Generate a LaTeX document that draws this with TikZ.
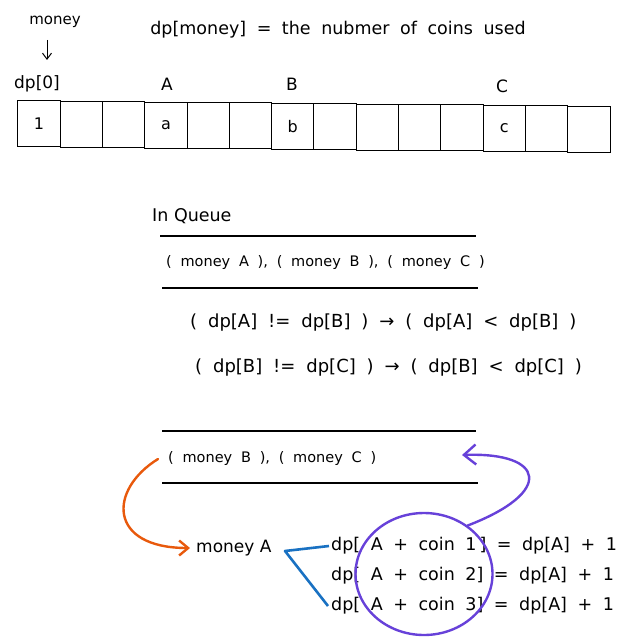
\documentclass[tikz,border=0pt]{standalone}
\usepackage{fontspec}
\setmainfont{DejaVu Sans}
\newfontfamily\widefont{DejaVu Sans}[WordSpace=1.9]
\usetikzlibrary{arrows.meta,shapes.geometric}
\definecolor{exorange}{HTML}{E8590C}
\definecolor{exblue}{HTML}{1971C2}
\definecolor{exviolet}{HTML}{6741D9}
\begin{document}
\begin{tikzpicture}[x=1pt,y=-1pt,
  txt/.style={inner sep=0pt, anchor=west, font=\fontsize{15}{18}\selectfont},
  big/.style={inner sep=0pt, anchor=west, font=\widefont\fontsize{18}{22}\selectfont},
  eqn/.style={inner sep=0pt, anchor=west, font=\widefont\fontsize{17.5}{22}\selectfont},
  que/.style={inner sep=0pt, anchor=west, font=\widefont\fontsize{14.5}{18}\selectfont},
  cell/.style={draw, line width=1pt, minimum width=42.3pt, minimum height=46pt, inner sep=0pt, font=\fontsize{16}{19}\selectfont},
  rule/.style={line width=1.4pt},
  barb/.style={-{Straight Barb[length=6pt,width=9pt]}},
]
\useasboundingbox (0,0) rectangle (628,644);
% title
\node[inner sep=0pt, font=\widefont\fontsize{17.5}{22}\selectfont] (title) at (338,30) {dp[money] = the nubmer of coins used};
% cells
\foreach \i/\t in {0/1,1/,2/,3/a,4/,5/,6/b,7/,8/,9/,10/,11/c,12/,13/}
  \node[cell] (c\i) at ({39+42.3*\i},{124+0.4*\i}) {\t};
% labels above cells
\node[txt, anchor=center] (money) at (55,22) {money};
\node[txt, anchor=center, font=\fontsize{17}{20}\selectfont] (dp0) at (37,84) {dp[0]};
\node[txt, anchor=center, font=\fontsize{17}{20}\selectfont] (lA) at (167,84) {A};
\node[txt, anchor=center, font=\fontsize{17}{20}\selectfont] (lB) at (292,84) {B};
\node[txt, anchor=center, font=\fontsize{17}{20}\selectfont] (lC) at (502,86) {C};
\coordinate (ma1) at (47,40);
\coordinate (ma2) at (47,60);
\draw[line width=1pt, barb] (ma1) -- (ma2);
% queue
\node[txt, font=\fontsize{17.5}{20}\selectfont] (inq) at (152,216) {In Queue};
\draw[rule] (160,236) -- (476,236);
\node[que] (q1) at (166,263) {( money A ), ( money B ), ( money C )};
\draw[rule] (162,288) -- (478,288);
\node[big] (r1) at (190,323) {( dp[A] != dp[B] ) → ( dp[A] < dp[B] )};
\node[big] (r2) at (195,368) {( dp[B] != dp[C] ) → ( dp[B] < dp[C] )};
\draw[rule] (162,431) -- (476,431);
\node[que] (q2) at (168,459) {( money B ), ( money C )};
\draw[rule] (162,483) -- (478,483);
% money A and equations
\node[txt, font=\fontsize{17}{19}\selectfont] (ma) at (196,548) {money A};
\node[eqn] (e1) at (331,546) {dp[ A + coin 1\,] = dp[A] + 1};
\node[eqn] (e2) at (331,576) {dp[ A + coin 2] = dp[A] + 1};
\node[eqn] (e3) at (331,606) {dp[ A + coin 3] = dp[A] + 1};
\coordinate (apex) at (285,551);
\draw[exblue, line width=2.6pt, line join=round] ([xshift=-2pt]e1.west) -- (apex) -- ([xshift=-3pt]e3.west);
% orange arrow
\draw[exorange, line width=2.4pt, line cap=round, -{Straight Barb[length=9pt,width=15pt]}]
  ([xshift=-10pt]q2.west) .. controls (108,490) and (108,548) .. ([xshift=-6pt]ma.west);
% violet circle and arrow
\node[draw=exviolet, line width=2.4pt, ellipse, minimum width=137pt, minimum height=122pt, inner sep=0pt] (circ) at (424,574) {};
\coordinate (vt) at (462,455);
\draw[exviolet, line width=2.4pt, line cap=round, -{Straight Barb[length=12pt,width=20pt]}]
  (circ.48) .. controls (555,492) and (545,452) .. (vt);
\end{tikzpicture}
\end{document}
